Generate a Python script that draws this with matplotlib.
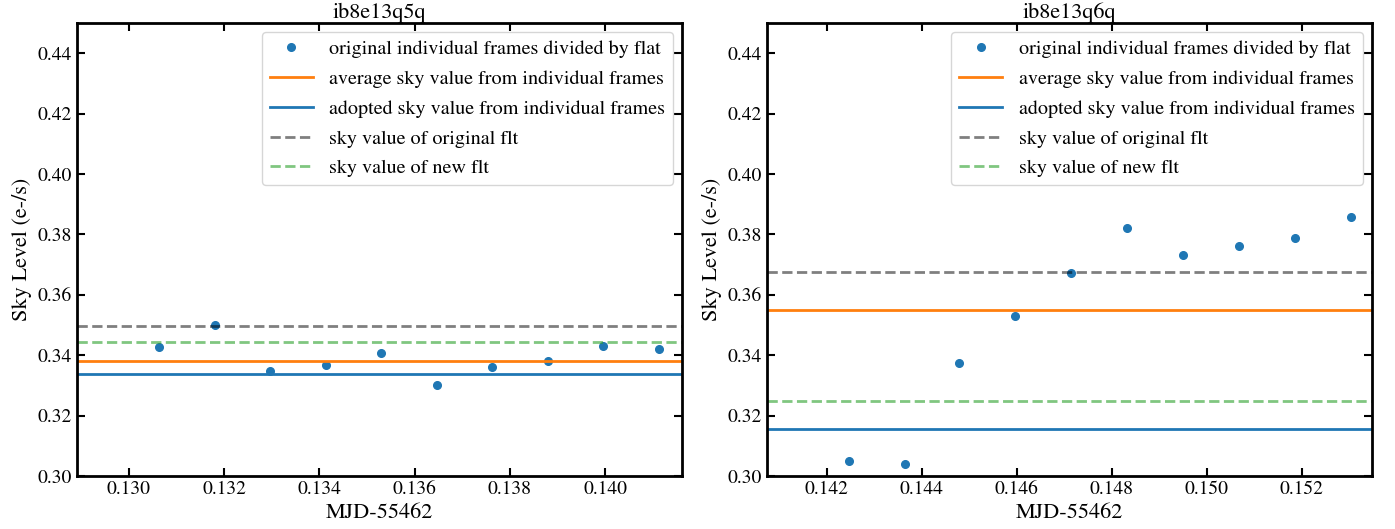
import numpy as np
import matplotlib
matplotlib.use("Agg")
import matplotlib.pyplot as plt

plt.rcParams.update({
    "font.family": "serif",
    "font.serif": ["STIXGeneral", "Liberation Serif", "DejaVu Serif"],
    "mathtext.fontset": "stix",
    "axes.linewidth": 2,
    "xtick.direction": "in",
    "ytick.direction": "in",
    "xtick.top": True,
    "ytick.right": True,
    "xtick.major.size": 6,
    "ytick.major.size": 6,
    "xtick.major.width": 1.5,
    "ytick.major.width": 1.5,
    "xtick.labelsize": 14,
    "ytick.labelsize": 14,
})

# exposure ib8e13q5q
names = ["ib8e13q5q", "ib8e13q6q"]
t1 = [0.13064, 0.13181, 0.13297, 0.13414, 0.13530, 0.13647, 0.13763, 0.13880, 0.13996, 0.14113]
sky1 = [0.3428, 0.3499, 0.3348, 0.3367, 0.3407, 0.3302, 0.3361, 0.3381, 0.3430, 0.3419]
avg1, adopt1, orig1, new1 = 0.3381, 0.3338, 0.3496, 0.3444

# exposure ib8e13q6q
t2 = [0.14248, 0.14364, 0.14479, 0.14596, 0.14714, 0.14832, 0.14950, 0.15068, 0.15186, 0.15303]
sky2 = [0.3050, 0.3041, 0.3373, 0.3530, 0.3673, 0.3820, 0.3732, 0.3763, 0.3788, 0.3859]
avg2, adopt2, orig2, new2 = 0.3549, 0.3156, 0.3676, 0.3247

xlims = [(0.12891, 0.14162), (0.14074, 0.15347)]
xticks = [[0.130, 0.132, 0.134, 0.136, 0.138, 0.140],
          [0.142, 0.144, 0.146, 0.148, 0.150, 0.152]]
yticks = [0.30, 0.32, 0.34, 0.36, 0.38, 0.40, 0.42, 0.44]

fig = plt.figure(figsize=(13.95, 5.29), dpi=100)
ax1 = fig.add_axes([0.0550, 0.1002, 0.4341, 0.8563])
ax2 = fig.add_axes([0.5496, 0.1002, 0.4337, 0.8563])

data = [(t1, sky1, avg1, adopt1, orig1, new1), (t2, sky2, avg2, adopt2, orig2, new2)]

for i, (ax, (t, sky, avg, adopt, orig, new)) in enumerate(zip([ax1, ax2], data)):
    ax.plot(t, sky, 'o', color='C0', ms=5.5, ls='none',
            label='original individual frames divided by flat')
    ax.axhline(avg, color='C1', lw=2, label='average sky value from individual frames')
    ax.axhline(adopt, color='C0', lw=2, label='adopted sky value from individual frames')
    ax.axhline(orig, color='k', alpha=0.5, lw=2, ls='--', label='sky value of original flt')
    ax.axhline(new, color='C2', alpha=0.6, lw=2, ls='--', label='sky value of new flt')
    ax.set_xlim(*xlims[i])
    ax.set_ylim(0.30, 0.45)
    ax.set_xticks(xticks[i])
    ax.set_xticklabels([f"{v:.3f}" for v in xticks[i]])
    ax.set_yticks(yticks)
    ax.set_yticklabels([f"{v:.2f}" for v in yticks])
    ax.set_xlabel("MJD-55462", fontsize=16)
    ax.set_ylabel("Sky Level (e-/s)", fontsize=16)
    ax.set_title(names[i], fontsize=16, pad=3)
    ax.legend(loc='upper right', fontsize=14.5, numpoints=1,
              labelspacing=0.58, handlelength=2.15, borderaxespad=0.45)

fig.savefig("out.png", dpi=100)
